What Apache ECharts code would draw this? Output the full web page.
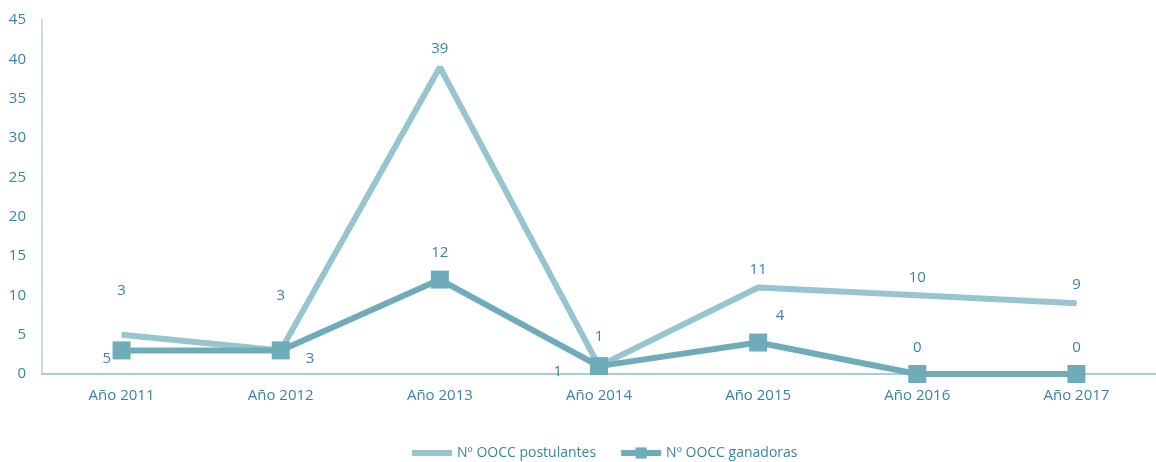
<!DOCTYPE html>
<html>
<head>
<meta charset="utf-8">
<script src="https://cdn.jsdelivr.net/npm/echarts@6/dist/echarts.min.js"></script>
<style>
    html, body { margin: 0; padding: 0; background: #fff; }
    #main { width: 1156px; height: 462px; }
</style>
</head>
<body>
<div id="main"></div>
<script>
const years = ['Año 2011', 'Año 2012', 'Año 2013', 'Año 2014', 'Año 2015', 'Año 2016', 'Año 2017'];
const postulantes = [5, 3, 39, 1, 11, 10, 9];
const ganadoras = [3, 3, 12, 1, 4, 0, 0];
const yTicks = [0, 5, 10, 15, 20, 25, 30, 35, 40, 45];

// Excel had a few labels placed oddly; mimic per point
const postLabels = {
    0: { position: 'left', distance: 10, offset: [0, 24] },
    1: { offset: [0, -37] },
    3: { offset: [0, -11] }
};
const ganLabels = {
    0: { offset: [0, -33] },
    1: { position: 'right', distance: 16, offset: [0, 8] },
    3: { position: 'left', distance: 28, offset: [0, 6] },
    4: { offset: [22, 0] }
};

const withLabels = (vals, extra) => vals.map((v, i) => extra[i] ? { value: v, label: extra[i] } : v);

const labelColor = '#3a84a2';
const chart = echarts.init(document.getElementById('main'));
chart.setOption({
    animation: false,
    textStyle: { fontFamily: 'Open Sans' },
    grid: { left: 42, top: 20, width: 1128, height: 354 },
    legend: {
        bottom: -3,
        left: 404,
        itemGap: 22,
        itemWidth: 40,
        itemHeight: 14,
        lineStyle: { width: 6 },
        textStyle: { color: labelColor, fontSize: 14 },
        data: [
            { name: 'Nº OOCC postulantes', itemStyle: { opacity: 0 } },
            { name: 'Nº OOCC ganadoras' }
        ]
    },
    xAxis: {
        type: 'category',
        data: years,
        axisLine: { lineStyle: { color: '#a9cdd6', width: 2 } },
        axisTick: { show: false },
        axisLabel: { color: labelColor, fontSize: 15, margin: 14 }
    },
    yAxis: {
        type: 'value',
        min: 0,
        max: yTicks[yTicks.length - 1],
        interval: 5,
        splitLine: { show: false },
        axisLine: { show: true, lineStyle: { color: '#c9dde3', width: 2 } },
        axisTick: { show: false },
        axisLabel: { color: labelColor, fontSize: 15, margin: 16 }
    },
    series: [
        {
            name: 'Nº OOCC postulantes',
            type: 'line',
            data: withLabels(postulantes, postLabels),
            symbol: 'circle',
            symbolSize: 1,
            lineStyle: { color: '#96c5cf', width: 6 },
            itemStyle: { color: '#96c5cf' },
            label: { show: true, position: 'top', distance: 10, color: labelColor, fontSize: 15 }
        },
        {
            name: 'Nº OOCC ganadoras',
            type: 'line',
            data: withLabels(ganadoras, ganLabels),
            symbol: 'rect',
            symbolSize: 18,
            lineStyle: { color: '#6eacba', width: 6 },
            itemStyle: { color: '#6eacba' },
            label: { show: true, position: 'top', distance: 10, color: labelColor, fontSize: 15 }
        }
    ]
});
</script>
</body>
</html>
